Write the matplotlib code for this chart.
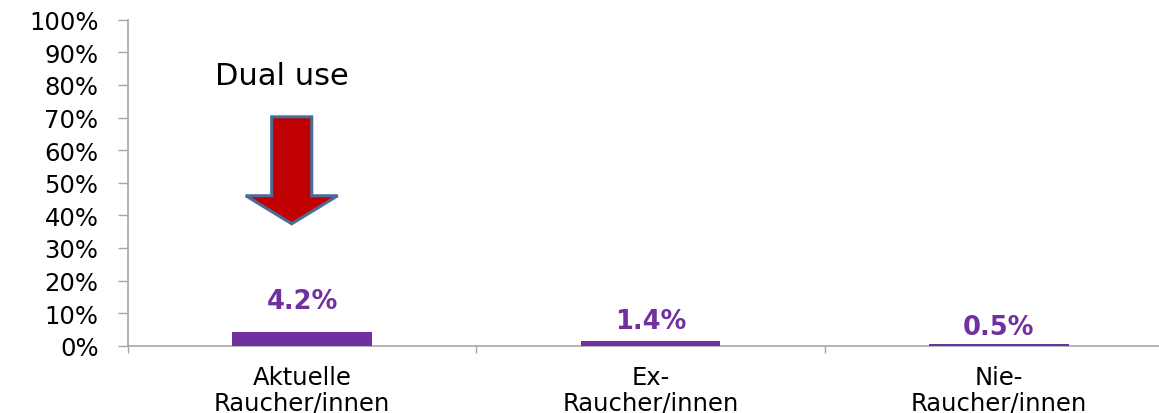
import matplotlib
matplotlib.use("Agg")
import matplotlib.pyplot as plt
from matplotlib.patches import FancyArrow
from matplotlib.ticker import FixedLocator, FuncFormatter

categories = ["Aktuelle\nRaucher/innen", "Ex-\nRaucher/innen", "Nie-\nRaucher/innen"]
values = [4.2, 1.4, 0.5]
value_labels = ["4.2%", "1.4%", "0.5%"]
yticks = [0, 10, 20, 30, 40, 50, 60, 70, 80, 90, 100]

purple = "#7030A0"
gray = "#A6A6A6"

plt.rcParams['font.family'] = ['DejaVu Sans']

fig = plt.figure(figsize=(11.59, 4.14), dpi=100)
ax = fig.add_axes([128 / 1159, 67.3 / 414, 1045 / 1159, 326 / 414])

x = list(range(len(categories)))
ax.bar(x, values, width=0.40, color=purple, zorder=3)

label_y = [13.8, 7.7, 5.8]
for xi, ly, lab in zip(x, label_y, value_labels):
    ax.text(xi, ly, lab, ha="center", va="center", color=purple,
            fontsize=18.5, fontweight="bold")

ax.set_xlim(-0.5, 2.5)
ax.set_ylim(0, 100)

ax.yaxis.set_major_locator(FixedLocator(yticks))
ax.yaxis.set_major_formatter(FuncFormatter(lambda v, p: f"{int(v)}%"))
ax.tick_params(axis="y", length=7.2, width=1, color=gray, labelsize=17.5, pad=14)

ax.set_xticks([-0.5, 0.5, 1.5, 2.5])
ax.set_xticklabels([])
ax.set_xticks(x, minor=True)
ax.set_xticklabels(categories, minor=True, fontsize=17.5, linespacing=1.05)
ax.tick_params(axis="x", which="major", length=5, width=1, color=gray, direction="out")
ax.tick_params(axis="x", which="minor", length=0, pad=14)

for s in ["top", "right"]:
    ax.spines[s].set_visible(False)
for s in ["left", "bottom"]:
    ax.spines[s].set_color(gray)
    ax.spines[s].set_linewidth(1.2)

# annotation: arrow and "Dual use"
arrow = FancyArrow(-0.03, 70.2, 0, -32.8, width=0.115, head_width=0.264,
                   head_length=8.6, length_includes_head=True,
                   facecolor="#C00000", edgecolor="#4A6C96", linewidth=2.2,
                   zorder=4)
ax.add_patch(arrow)
ax.text(-0.057, 83, "Dual use", ha="center", va="center", fontsize=22, color="black")

fig.savefig("out.png", dpi=100)
